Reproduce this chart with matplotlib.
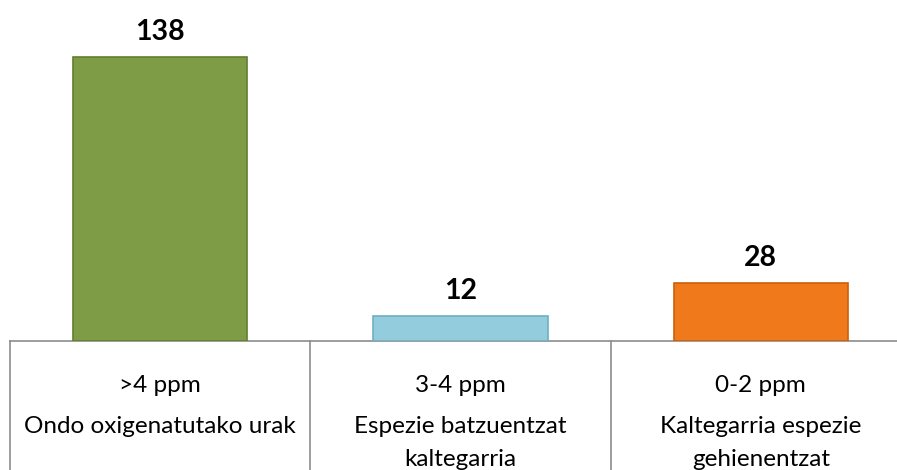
import matplotlib
matplotlib.use("Agg")
import matplotlib.pyplot as plt
import matplotlib.transforms as mtransforms

# Data
ranges = [">4 ppm", "3-4 ppm", "0-2 ppm"]
descriptions = ["Ondo oxigenatutako urak", "Espezie batzuentzat\nkaltegarria", "Kaltegarria espezie\ngehienentzat"]
values = [138, 12, 28]
bar_colors = ["#7E9B46", "#93CDDD", "#F07A1B"]
edge_colors = ["#637D30", "#6FAFC2", "#C9600D"]

plt.rcParams['font.family'] = ['Lato', 'DejaVu Sans']

fig = plt.figure(figsize=(8.97, 4.70), dpi=100)
ax = fig.add_axes([10 / 897, 129 / 470, 901 / 897, 341 / 470])

x = list(range(len(values)))
bars = ax.bar(x, values, width=0.58, color=bar_colors, edgecolor=edge_colors, linewidth=1.2, zorder=3)

for xi, v in zip(x, values):
    ax.annotate(str(v), (xi, v), xytext=(0, 9), textcoords="offset points",
                ha="center", va="bottom", fontsize=20.5, fontweight="bold", color="black")

ax.set_xlim(-0.5, 2.5)
ax.set_ylim(0, 165.7)
ax.set_xticks([])
ax.set_yticks([])
for s in ["top", "right", "left"]:
    ax.spines[s].set_visible(False)
ax.spines["bottom"].set_color("#8C8C8C")
ax.spines["bottom"].set_linewidth(1.2)

# Category table below the axis
trans = mtransforms.blended_transform_factory(ax.transData, fig.transFigure)
for xb in [-0.5, 0.5, 1.5, 2.5]:
    ax.plot([xb, xb], [129 / 470, 0], transform=trans, color="#8C8C8C", lw=1.2, clip_on=False)

for xi, r, d in zip(x, ranges, descriptions):
    ax.text(xi, 1 - 385 / 470, r, transform=trans, ha="center", va="center", fontsize=17.5)
    ax.text(xi, 1 - 416 / 470, d, transform=trans, ha="center", va="top", fontsize=17.5, linespacing=1.7)

fig.savefig("out.png", dpi=100)
